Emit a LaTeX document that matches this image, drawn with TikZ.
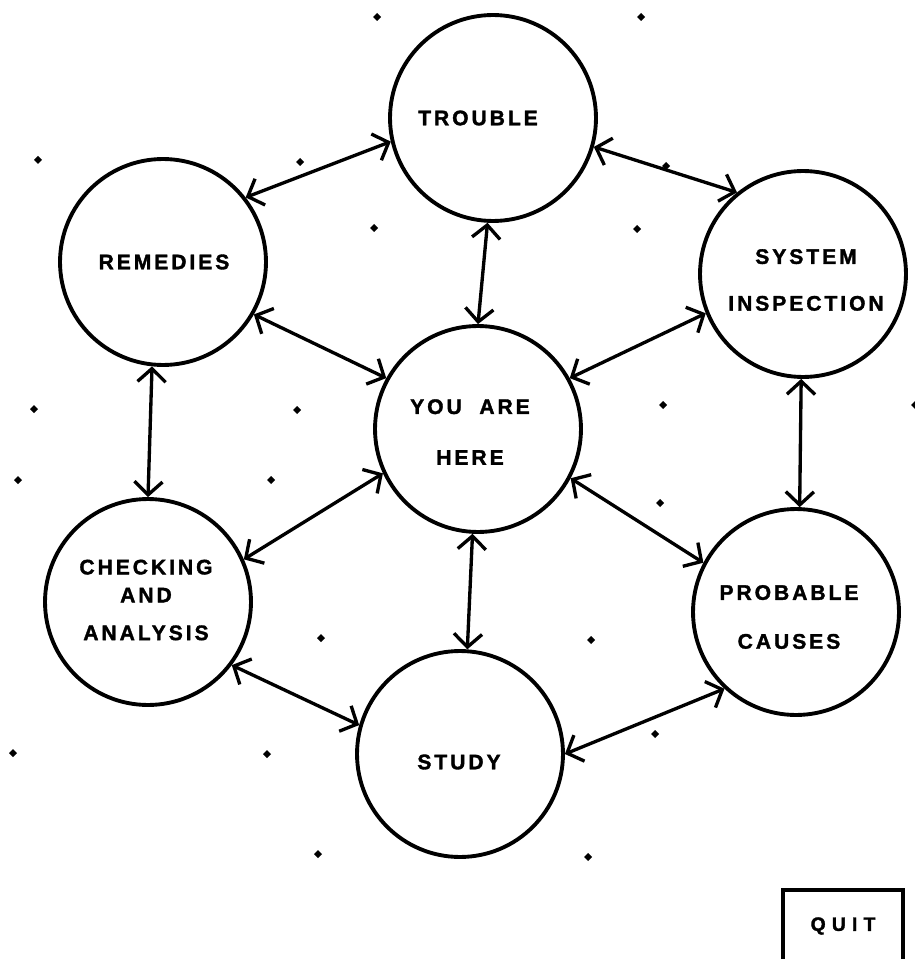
\documentclass[tikz,border=0pt]{standalone}
\usepackage{fontspec}
\setmainfont{Liberation Sans}
\newfontfamily\lblfont[LetterSpace=14,FakeBold=1.6]{Liberation Sans Bold}
\newfontfamily\quitfont[LetterSpace=32,FakeBold=1.6]{Liberation Sans Bold}
\usetikzlibrary{arrows.meta}
\begin{document}
\begin{tikzpicture}[x=0.02cm,y=-0.02cm,
  ring/.style={circle, draw, line width=2.2pt, minimum size=4.12cm, inner sep=0pt},
  barb/.tip={Straight Barb[length=7.5pt,width=16pt,line width=1.9pt]},
  link/.style={line width=1.9pt, barb-barb},
  lbl/.style={font=\lblfont\fontsize{12}{14}\selectfont, align=center, inner sep=0pt},
  dotmark/.style={fill=black}]
\useasboundingbox (0,0) rectangle (915,959);
% circles
\node[ring] (tr) at (493,118) {};
\node[ring] (re) at (163,262) {};
\node[ring] (sy) at (803,274) {};
\node[ring] (yo) at (478,429) {};
\node[ring] (ch) at (148,602) {};
\node[ring] (pr) at (796,612) {};
\node[ring] (st) at (460,754) {};
% labels
\node[lbl] (ttr) at (478,118) {TROUBLE};
\node[lbl] (tre) at (164,262) {REMEDIES};
\node[lbl] (tsy) at (806,280) {SYSTEM\\[12.6pt]INSPECTION};
\node[lbl] (tyo) at (470,432) {YOU\hspace{5pt} ARE\\[14.9pt]HERE};
\node[lbl] (tch) at (146,600) {CHECKING\\[1.9pt]AND\hspace{0.3cm}\\[7.5pt]ANALYSIS};
\node[lbl] (tpr) at (789,617) {PROBABLE\\[13.8pt]CAUSES};
\node[lbl] (tst) at (459,762) {STUDY};
% quit box
\node[draw, line width=1.9pt, minimum width=2.4cm, minimum height=1.44cm, inner sep=0pt,
      font=\quitfont\fontsize{11}{13}\selectfont] (quit) at (843,926) {QUIT};
% dots
\foreach \p in {(377,17),(641,17),(38,160),(300,162),(666,166),(374,228),(637,229),
  (34,409),(297,410),(663,405),(915,405),(18,480),(271,480),(660,503),(321,638),
  (591,640),(13,753),(267,754),(655,734),(318,854),(588,857)}
  \fill[dotmark] \p ++(0,-4) -- ++(4,4) -- ++(-4,4) -- ++(-4,-4) -- cycle;
% connectors
\draw[link] (re.38) -- (tr.193);
\draw[link] (re.-30) -- (yo.151);
\draw[link] (re.264) -- (ch.90);
\draw[link] (tr.267) -- (yo.90);
\draw[link] (tr.-16) -- (sy.129);
\draw[link] (yo.29) -- (sy.202);
\draw[link] (sy.269) -- (pr.88);
\draw[link] (ch.24) -- (yo.205);
\draw[link] (yo.-28) -- (pr.152);
\draw[link] (yo.267) -- (st.86);
\draw[link] (ch.-37) -- (st.164);
\draw[link] (st.0) -- (pr.227);
\end{tikzpicture}
\end{document}
